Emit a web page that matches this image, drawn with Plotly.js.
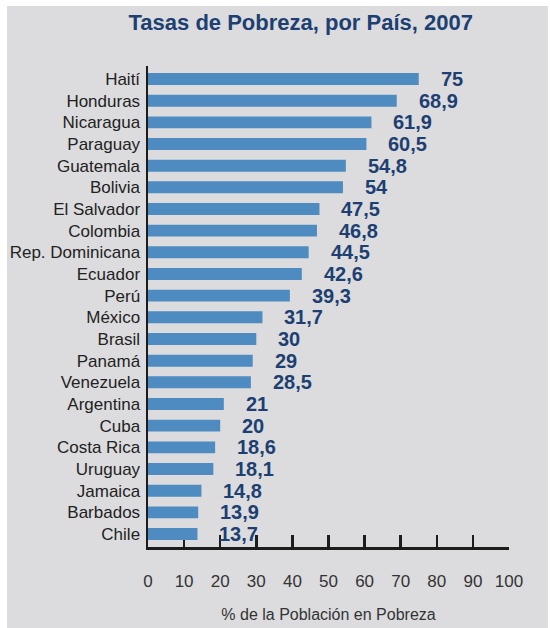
<!DOCTYPE html>
<html>
<head>
<meta charset="utf-8">
<script src="https://cdn.plot.ly/plotly-3.0.1.min.js"></script>
<style>
  body { margin: 0; background: #ffffff; }
  #chart { position: absolute; left: 7px; top: 6px; width: 541px; height: 622px; }
</style>
</head>
<body>
<div id="chart"></div>
<script>
// paises y tasas de pobreza (2007)
var paises = ["Haití", "Honduras", "Nicaragua", "Paraguay", "Guatemala", "Bolivia",
  "El Salvador", "Colombia", "Rep. Dominicana", "Ecuador", "Perú", "México",
  "Brasil", "Panamá", "Venezuela", "Argentina", "Cuba", "Costa Rica",
  "Uruguay", "Jamaica", "Barbados", "Chile"];
var pobreza = [75, 68.9, 61.9, 60.5, 54.8, 54, 47.5, 46.8, 44.5, 42.6, 39.3, 31.7,
  30, 29, 28.5, 21, 20, 18.6, 18.1, 14.8, 13.9, 13.7];
var xTicks = [0, 10, 20, 30, 40, 50, 60, 70, 80, 90, 100];

var barColor = "#4d8bc1";
var navy = "#1d3f72";
var axisColor = "#1c1c1c";

var bars = {
  type: "bar",
  orientation: "h",
  x: pobreza,
  y: paises,
  marker: { color: barColor },
  hoverinfo: "none"
};

// etiquetas de valor a la derecha de cada barra
var labels = [];
for (var i = 0; i < paises.length; i++) {
  labels.push({
    x: pobreza[i],
    y: paises[i],
    xref: "x",
    yref: "y",
    text: String(pobreza[i]).replace(".", ","),
    showarrow: false,
    xanchor: "left",
    yanchor: "middle",
    xshift: 20,
    font: { family: "Liberation Sans", size: 20, color: navy, weight: "bold", stretch: "condensed" }
  });
}

var layout = {
  width: 541,
  height: 622,
  paper_bgcolor: "#dcdcde",
  plot_bgcolor: "rgba(0,0,0,0)",
  margin: { l: 141, r: 39, t: 60, b: 81 },
  bargap: 0.45,
  showlegend: false,
  title: {
    text: "<b>Tasas de Pobreza, por País, 2007</b>",
    font: { family: "Liberation Sans", size: 22, color: navy, stretch: "condensed" },
    xref: "container",
    yref: "container",
    x: 0.543,
    xanchor: "center",
    y: 0.974,
    yanchor: "middle"
  },
  xaxis: {
    range: [0, 100],
    tickvals: xTicks,
    ticktext: xTicks.map(String),
    ticks: "inside",
    ticklen: 12,
    tickwidth: 2.5,
    tickcolor: axisColor,
    ticklabelstandoff: 17,
    showline: true,
    linewidth: 2.5,
    linecolor: axisColor,
    showgrid: false,
    zeroline: false,
    layer: "below traces",
    tickfont: { family: "Liberation Sans, sans-serif", size: 17, color: "#333333" },
    title: {
      text: "% de la Población en Pobreza",
      font: { family: "Liberation Sans, sans-serif", size: 16, color: "#333333" },
      standoff: 19
    },
    fixedrange: true
  },
  yaxis: {
    autorange: "reversed",
    showline: true,
    linewidth: 2.5,
    linecolor: axisColor,
    ticks: "",
    showgrid: false,
    zeroline: false,
    ticklabelstandoff: 2,
    tickfont: { family: "Liberation Sans, sans-serif", size: 17, color: "#222222" },
    fixedrange: true
  },
  annotations: labels
};

Plotly.newPlot("chart", [bars], layout, { displayModeBar: false, staticPlot: true });
</script>
</body>
</html>
